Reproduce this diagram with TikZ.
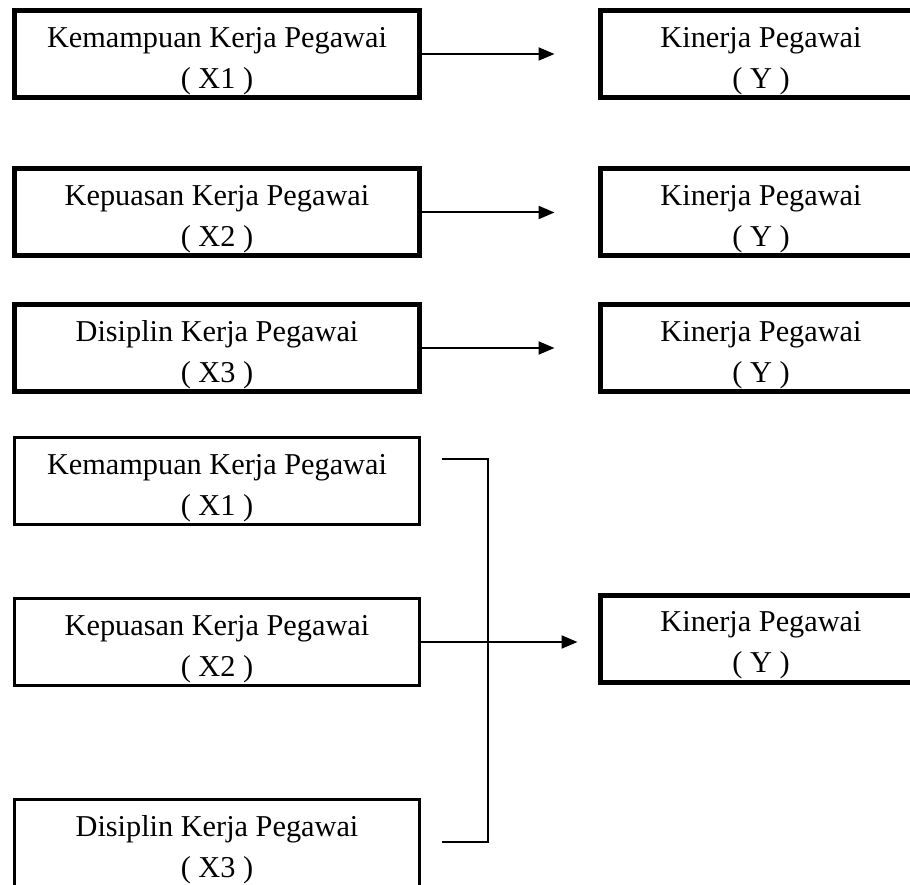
\documentclass[tikz,border=0pt]{standalone}
\usepackage{fontspec}
\setmainfont{Liberation Serif}
\usetikzlibrary{arrows.meta}
\newcommand{\vartext}[2]{\rule{0pt}{34pt}#1\\( #2 )}
\begin{document}
\begin{tikzpicture}[x=1pt, y=-1pt,
  varbox/.style={draw, line width=5pt, minimum width=405pt, minimum height=87pt,
    align=center, inner sep=0pt, font=\fontsize{30.3}{41}\selectfont},
  ybox/.style={varbox, minimum width=322pt},
  link/.style={line width=2pt, -{Triangle[length=16pt,width=13pt]}}]
	\useasboundingbox (0,0) rectangle (910,885);
	\clip (0,0) rectangle (910,885);

	%single effects
	\node[varbox] (x1a) at (217,54) {\vartext{Kemampuan Kerja Pegawai}{X1}};
	\node[ybox] (ya) at (761,54) {\vartext{Kinerja Pegawai}{Y}};
	\node[varbox] (x2a) at (217,212.5) {\vartext{Kepuasan Kerja Pegawai}{X2}};
	\node[ybox] (yb) at (761,212.5) {\vartext{Kinerja Pegawai}{Y}};
	\node[varbox] (x3a) at (217,348) {\vartext{Disiplin Kerja Pegawai}{X3}};
	\node[ybox] (yc) at (761,348) {\vartext{Kinerja Pegawai}{Y}};

	\draw[link, shorten >=43pt] (x1a.east) -- (ya.west);
	\draw[link, shorten >=43pt] (x2a.east) -- (yb.west);
	\draw[link, shorten >=43pt] (x3a.east) -- (yc.west);

	%joint effect
	\node[varbox, line width=3.5pt] (x1d) at (217,481) {\vartext{Kemampuan Kerja Pegawai}{X1}};
	\node[varbox, line width=3.5pt] (x2d) at (217,642) {\vartext{Kepuasan Kerja Pegawai}{X2}};
	\node[varbox, line width=3.5pt] (x3d) at (217,843) {\vartext{Disiplin Kerja Pegawai}{X3}};
	\node[ybox] (yd) at (761,638.5) {\vartext{Kinerja Pegawai}{Y}};

	\coordinate (brtop) at (442,459);
	\coordinate (brbot) at (442,842);
	\draw[line width=1.8pt] (brtop) -- ++(46,0) |- (brbot);
	\draw[link, shorten >=20pt] (x2d.east) -- (x2d.east -| yd.west);
\end{tikzpicture}
\end{document}
